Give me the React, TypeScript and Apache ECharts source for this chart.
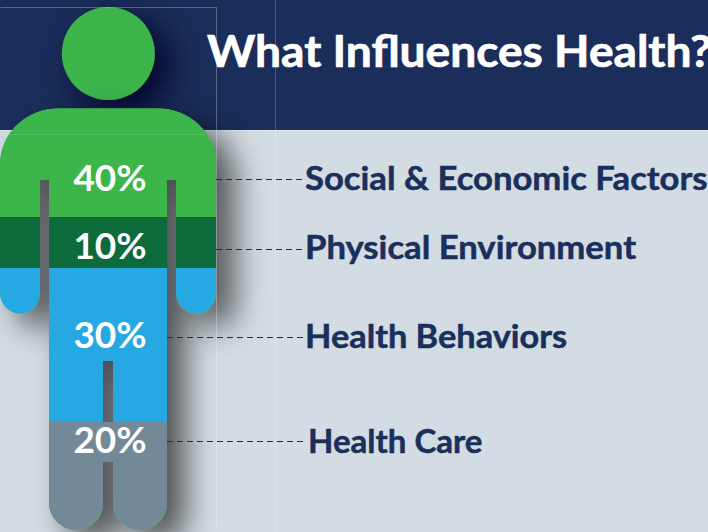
import React, { useEffect, useRef } from "react";
import * as echarts from "echarts";

const titleText = "What Influences Health?";
const factors = ["Social & Economic Factors", "Physical Environment", "Health Behaviors", "Health Care"];
const shares = ["40%", "10%", "30%", "20%"];
const bandColors = ["#3cb54b", "#0c6a3b", "#26a9e2", "#738997"];

const NAVY = "#1a2d5b";
const PAGE = "#d3dce2";

const ARM_L = "M0 268L40 268L40 293A20 20.5 0 0 1 0 293Z";
const ARM_R = "M176 268L216 268L216 293A20 20.5 0 0 1 176 293Z";
const shapes: Record<string, string> = {
  silhouette:
    "M0 164A58 56 0 0 1 58 108.5L158 108.5A58 56 0 0 1 216 164L216 293A20 20.5 0 0 1 176 293L176 180L167 180L167 503A27 27 0 0 1 113 503L113 361L103 361L103 503A27 27 0 0 1 49 503L49 180L40 180L40 293A20 20.5 0 0 1 0 293Z",
  band0:
    "M0 217L0 164A58 56 0 0 1 58 108.5L158 108.5A58 56 0 0 1 216 164L216 217L176 217L176 180L167 180L167 217L49 217L49 180L40 180L40 217Z",
  band1: "M0 217L40 217L40 268L0 268ZM49 217L167 217L167 268L49 268ZM176 217L216 217L216 268L176 268Z",
  band2: "M49 268L167 268L167 422L113 422L113 361L103 361L103 422L49 422Z" + ARM_L + ARM_R,
  band3:
    "M49 422L167 422L167 503A27 27 0 0 1 113 503L113 462L103 462L103 503A27 27 0 0 1 49 503Z",
};
Object.entries(shapes).forEach(([k, d]) => {
  echarts.graphic.registerShape("hb_" + k, echarts.graphic.extendPath(d, {}));
});

const FONT = "Lato, 'Noto Sans', sans-serif";
const pctY = [176, 244, 333, 438];
const labelX = [305, 305, 305, 308];
const labelY = [177, 246, 335, 440];
const labelScale = [1.05, 1.05, 1.04, 1.0];
const leaderY = [179, 249, 337, 441];
const leaderX0 = [216, 216, 167, 167];

export default function App() {
  const ref = useRef<HTMLDivElement>(null);
  useEffect(() => {
    const chart = echarts.init(ref.current!, undefined, { renderer: "svg" });
    const thin = (x1: number, y1: number, x2: number, y2: number, stroke: string) => ({
      type: "line",
      shape: { x1, y1, x2, y2 },
      silent: true,
      style: { stroke, lineWidth: 1 },
    });
    const graphic: any[] = [
      { type: "rect", shape: { x: 0, y: 0, width: 708, height: 130 }, style: { fill: NAVY } },
      { type: "rect", shape: { x: 0, y: 130, width: 708, height: 402 }, style: { fill: PAGE } },
      thin(0, 130.5, 708, 130.5, "rgba(255,255,255,0.3)"),
      thin(275.5, 0, 275.5, 532, "rgba(255,255,255,0.22)"),
      {
        type: "circle",
        shape: { cx: 108.3, cy: 53.5, r: 46.5 },
        style: {
          fill: bandColors[0],
          shadowBlur: 34,
          shadowColor: "rgba(0,0,40,0.95)",
          shadowOffsetX: 14,
          shadowOffsetY: 12,
        },
      },
      {
        type: "hb_silhouette",
        x: 0,
        y: 0,
        style: {
          fill: bandColors[0],
          shadowBlur: 32,
          shadowColor: "rgba(0,0,0,0.64)",
          shadowOffsetX: 18,
          shadowOffsetY: 14,
        },
      },
      ...bandColors.map((fill, i) => ({ type: "hb_band" + i, x: 0, y: 0, style: { fill } })),
      thin(0.5, 7.5, 216.5, 7.5, "rgba(255,255,255,0.28)"),
      thin(216.5, 7.5, 216.5, 530, "rgba(255,255,255,0.28)"),
      thin(0, 134.5, 205, 134.5, "rgba(255,255,255,0.1)"),
      ...leaderY.map((y, i) => ({
        type: "line",
        shape: { x1: leaderX0[i], y1: y + 0.5, x2: 305, y2: y + 0.5 },
        style: { stroke: NAVY, lineWidth: 1, lineDash: [6, 4] },
      })),
      {
        type: "text",
        x: 207,
        y: 50,
        scaleX: 1.048,
        style: {
          text: titleText,
          fontFamily: FONT,
          fontWeight: "bold",
          fontSize: 44,
          fill: "#ffffff",
          stroke: "#ffffff",
          lineWidth: 0.7,
          textAlign: "left",
          textVerticalAlign: "middle",
        },
      },
      ...shares.map((text, i) => ({
        type: "text",
        x: 110,
        y: pctY[i],
        style: {
          text,
          fontFamily: FONT,
          fontWeight: "bold",
          fontSize: 37,
          fill: "#ffffff",
          textAlign: "center",
          textVerticalAlign: "middle",
        },
      })),
      ...factors.map((text, i) => ({
        type: "text",
        x: labelX[i],
        y: labelY[i],
        scaleX: labelScale[i],
        style: {
          text,
          fontFamily: FONT,
          fontWeight: "bold",
          fontSize: 33,
          fill: "#1a2f5c",
          stroke: "#1a2f5c",
          lineWidth: 0.5,
          textAlign: "left",
          textVerticalAlign: "middle",
        },
      })),
    ];
    chart.setOption({ animation: false, backgroundColor: PAGE, graphic });
    return () => chart.dispose();
  }, []);
  return <div ref={ref} style={{ position: "absolute", left: 0, top: 0, width: 708, height: 532 }} />;
}
